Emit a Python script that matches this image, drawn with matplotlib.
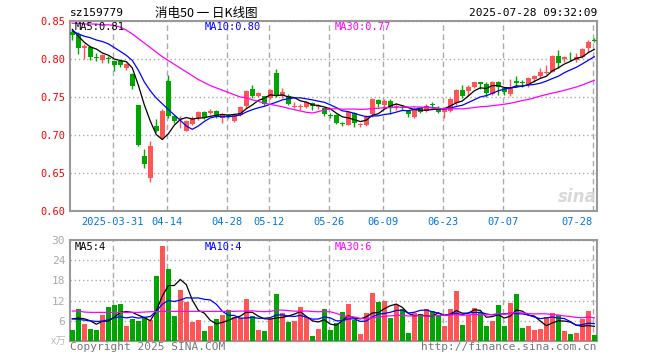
import numpy as np
import pandas as pd
import matplotlib
matplotlib.use('Agg')
import matplotlib.pyplot as plt

plt.rcParams['font.family'] = ['DejaVu Sans Mono', 'Noto Sans CJK SC']

# daily candles, 2025-03-20 .. 2025-07-28 (88 trading days)
opens = [0.8355, 0.832, 0.815, 0.8154, 0.802, 0.799, 0.801, 0.7978, 0.798, 0.788,
         0.780, 0.739, 0.673, 0.6434, 0.7114, 0.696, 0.7715, 0.7246, 0.7215, 0.7057,
         0.715, 0.722, 0.730, 0.729, 0.732, 0.7224, 0.7258, 0.719, 0.7259, 0.7377,
         0.7605, 0.7518, 0.7509, 0.7482, 0.7816, 0.7518, 0.7518, 0.7368, 0.7368, 0.7373,
         0.7417, 0.7368, 0.735, 0.7258, 0.7263, 0.7149, 0.7136, 0.7285, 0.7127, 0.7127,
         0.7272, 0.746, 0.7395, 0.7447, 0.7368, 0.736, 0.7316, 0.7241, 0.7351, 0.7316,
         0.7397, 0.7342, 0.7298, 0.7316, 0.7417, 0.7592, 0.7583, 0.7636, 0.7693, 0.7667,
         0.7539, 0.7693, 0.7623, 0.7535, 0.7715, 0.7684, 0.7658, 0.7737, 0.7781, 0.7816,
         0.7833, 0.804, 0.800, 0.8011, 0.7987, 0.8031, 0.8149, 0.8243]
closes = [0.831, 0.8145, 0.817, 0.8022, 0.801, 0.805, 0.800, 0.7917, 0.7925, 0.7934,
          0.764, 0.687, 0.662, 0.6851, 0.7048, 0.731, 0.7246, 0.719, 0.7225, 0.718,
          0.721, 0.730, 0.722, 0.732, 0.7246, 0.7268, 0.7254, 0.7268, 0.7364, 0.7575,
          0.7518, 0.7548, 0.7412, 0.7592, 0.7518, 0.757, 0.7412, 0.7373, 0.7373, 0.7439,
          0.7386, 0.7373, 0.7272, 0.7254, 0.7154, 0.7145, 0.730, 0.7154, 0.7132, 0.7241,
          0.7469, 0.7404, 0.7447, 0.735, 0.7373, 0.7355, 0.7272, 0.7329, 0.7298, 0.7382,
          0.7393, 0.7307, 0.7351, 0.7474, 0.7592, 0.7513, 0.7636, 0.7693, 0.767, 0.7548,
          0.7702, 0.7636, 0.757, 0.7636, 0.7684, 0.768, 0.7746, 0.7781, 0.7833, 0.782,
          0.804, 0.7943, 0.8031, 0.8007, 0.8022, 0.8132, 0.8228, 0.8241]
highs = [0.838, 0.836, 0.820, 0.8167, 0.808, 0.807, 0.804, 0.799, 0.799, 0.795,
         0.7816, 0.740, 0.682, 0.6917, 0.7215, 0.7346, 0.779, 0.7268, 0.7246, 0.720,
         0.7254, 0.732, 0.732, 0.7346, 0.7333, 0.729, 0.728, 0.728, 0.7377, 0.7588,
         0.7658, 0.7561, 0.7518, 0.7605, 0.7868, 0.7614, 0.7535, 0.7439, 0.7404, 0.7447,
         0.7439, 0.7404, 0.737, 0.7285, 0.7272, 0.7175, 0.7307, 0.7307, 0.7154, 0.7263,
         0.7482, 0.7469, 0.7469, 0.7469, 0.7417, 0.7395, 0.7329, 0.7373, 0.7373, 0.7412,
         0.7439, 0.7386, 0.7373, 0.7482, 0.7601, 0.7658, 0.7658, 0.7702, 0.7702, 0.7693,
         0.7715, 0.771, 0.7636, 0.7737, 0.7776, 0.7724, 0.7768, 0.779, 0.7877, 0.7921,
         0.8053, 0.8118, 0.804, 0.8088, 0.8075, 0.814, 0.825, 0.828]
lows = [0.8254, 0.8066, 0.800, 0.799, 0.798, 0.795, 0.795, 0.7846, 0.790, 0.786,
        0.761, 0.686, 0.656, 0.638, 0.7035, 0.695, 0.7224, 0.7158, 0.709, 0.705,
        0.7136, 0.720, 0.7215, 0.7276, 0.7224, 0.7158, 0.7224, 0.717, 0.7246, 0.736,
        0.749, 0.7504, 0.7395, 0.7469, 0.7504, 0.749, 0.7395, 0.736, 0.733, 0.735,
        0.733, 0.7342, 0.7254, 0.722, 0.714, 0.7118, 0.7127, 0.711, 0.710, 0.7118,
        0.7241, 0.7373, 0.7351, 0.7272, 0.733, 0.733, 0.7241, 0.7219, 0.7285, 0.7298,
        0.7351, 0.7285, 0.7228, 0.7298, 0.7395, 0.7491, 0.7513, 0.7614, 0.7605, 0.7504,
        0.7526, 0.7526, 0.7526, 0.7518, 0.7636, 0.7636, 0.7636, 0.7693, 0.7754, 0.7798,
        0.7825, 0.7886, 0.7965, 0.7974, 0.7965, 0.8009, 0.8096, 0.8228]
volumes = [3.4, 9.4, 5.0, 3.7, 3.4, 7.6, 10.0, 10.6, 10.9, 4.6,
           6.4, 5.8, 7.2, 6.1, 19.3, 28.3, 21.4, 7.3, 15.1, 11.6,
           5.5, 6.1, 3.1, 4.4, 6.4, 7.6, 9.1, 7.0, 6.8, 12.4,
           7.3, 3.4, 3.1, 6.4, 13.9, 8.2, 5.5, 5.9, 10.0, 7.0,
           1.6, 3.7, 9.4, 3.4, 5.2, 8.5, 10.9, 6.1, 2.2, 8.2,
           14.2, 11.5, 11.8, 6.7, 10.6, 9.4, 2.5, 8.2, 7.9, 9.4,
           8.8, 7.6, 4.6, 9.4, 14.8, 4.9, 7.6, 9.7, 8.5, 4.6,
           5.8, 10.6, 4.6, 11.2, 13.9, 4.0, 4.6, 3.4, 3.7, 7.0,
           8.2, 7.6, 3.1, 2.2, 2.5, 6.4, 8.8, 1.9]

# moving average values before a full window exists
price_ma5_head = [0.839, 0.830, 0.822, 0.816]
price_ma10_head = [0.837, 0.833, 0.830, 0.828, 0.825, 0.823, 0.820, 0.815, 0.810]
price_ma30_head = [0.847, 0.847, 0.846, 0.846, 0.846, 0.845, 0.845, 0.844, 0.842, 0.838,
                   0.833, 0.827, 0.821, 0.815, 0.809, 0.803, 0.798, 0.793, 0.788, 0.783,
                   0.778, 0.773, 0.769, 0.765, 0.762, 0.759, 0.756, 0.753, 0.750]
vol_ma5_head = [6.6, 6.8, 6.6, 6.0]
vol_ma10_head = [6.6, 6.4, 6.2, 6.0, 5.8, 5.9, 6.3, 6.9, 7.2]
vol_ma30_head = [8.9, 8.9, 8.6, 8.5, 8.5, 8.5, 8.5, 8.5, 8.5, 8.5,
                 8.5, 8.5, 8.6, 8.7, 8.7, 8.8, 8.8, 8.8, 8.8, 8.8,
                 8.8, 8.8, 8.8, 8.8, 8.8, 8.8, 8.8, 8.8, 8.9]

tick_index = [7, 16, 26, 33, 43, 52, 62, 72, 87]
tick_labels = ['2025-03-31', '04-14', '04-28', '05-12', '05-26', '06-09', '06-23', '07-07', '07-28']
price_ticks = [0.60, 0.65, 0.70, 0.75, 0.80, 0.85]
vol_ticks = [6, 12, 18, 24, 30]

RED = '#ff5555'
GREEN = '#00a600'
GRID = '#aaaaaa'
FRAME = '#999999'


def moving_avg(values, n, head):
    s = pd.Series(values, dtype=float).rolling(n).mean()
    s.iloc[:n - 1] = head
    return s.values


W, H = 660, 360


def px(x, y):
    return x / W, 1 - y / H


x = np.arange(len(closes))
o = np.array(opens)
c = np.array(closes)
up = c >= o
colors = np.where(up, RED, GREEN)
grid_x = np.array(tick_index) - 0.25

fig = plt.figure(figsize=(6.6, 3.6), dpi=100)
ax = fig.add_axes([70 / W, 1 - 211 / H, 527 / W, 190 / H])
axv = fig.add_axes([70 / W, 1 - 341 / H, 527 / W, 101 / H])

for a in (ax, axv):
    a.set_xlim(-0.383, 87.45)
    for sp in a.spines.values():
        sp.set_color(FRAME)
        sp.set_linewidth(1.5)
    a.set_xticks(grid_x)
    a.grid(axis='x', color=GRID, linestyle=(0, (4, 2.5)), linewidth=1)
    a.grid(axis='y', color=GRID, linestyle=(0, (1, 2)), linewidth=1)
    a.set_axisbelow(True)
    a.tick_params(length=0)

# price panel
ax.set_ylim(0.60, 0.85)
ax.set_yticks(price_ticks)
ax.set_yticklabels(['%.2f' % v for v in price_ticks], color='#ff0000', fontsize=7.5)
ax.set_xticklabels(tick_labels, color='#0077dd', fontsize=7.5)
ax.tick_params(axis='x', pad=4)
ax.get_xticklabels()[-1].set_horizontalalignment('right')

body = np.maximum(np.abs(c - o), 0.0012)
ax.vlines(x, lows, highs, colors=colors, linewidth=1, zorder=3)
ax.bar(x, body, bottom=np.minimum(o, c), width=0.78, color=colors, zorder=3)

ma5 = moving_avg(closes, 5, price_ma5_head)
ma10 = moving_avg(closes, 10, price_ma10_head)
ma30 = moving_avg(closes, 30, price_ma30_head)
ax.plot(x, ma5, color='black', linewidth=0.9, zorder=4)
ax.plot(x, ma10, color='#0000ff', linewidth=0.9, zorder=4)
ax.plot(x, ma30, color='#ff00ff', linewidth=0.9, zorder=4)

# volume panel
axv.set_ylim(0, 30)
axv.set_yticks(vol_ticks)
axv.set_yticklabels([str(v) for v in vol_ticks], color='#aaaaaa', fontsize=8)
axv.set_xticklabels([])
axv.bar(x, volumes, width=0.78, color=colors, zorder=3)
axv.plot(x, moving_avg(volumes, 5, vol_ma5_head), color='black', linewidth=0.9, zorder=4)
axv.plot(x, moving_avg(volumes, 10, vol_ma10_head), color='#0000ff', linewidth=0.9, zorder=4)
axv.plot(x, moving_avg(volumes, 30, vol_ma30_head), color='#ff00ff', linewidth=0.9, zorder=4)

# texts
fig.text(*px(70, 13), 'sz159779', fontsize=8, va='center', ha='left')
fig.text(*px(206, 13), '消电50 一 日K线图', fontsize=9, va='center', ha='center',
         family=['Noto Sans CJK SC', 'DejaVu Sans Mono'])
fig.text(*px(597, 13), '2025-07-28 09:32:09', fontsize=8, va='center', ha='right')

fig.text(*px(75, 27), 'MA5:%.2f' % ma5[-1], fontsize=7.5, va='center', color='black')
fig.text(*px(205, 27), 'MA10:%.2f' % ma10[-1], fontsize=7.5, va='center', color='#0000ff')
fig.text(*px(335, 27), 'MA30:%.2f' % ma30[-1], fontsize=7.5, va='center', color='#ff00ff')

fig.text(*px(75, 247), 'MA5:4', fontsize=7.5, va='center', color='black')
fig.text(*px(205, 247), 'MA10:4', fontsize=7.5, va='center', color='#0000ff')
fig.text(*px(335, 247), 'MA30:6', fontsize=7.5, va='center', color='#ff00ff')

fig.text(*px(66, 342), 'x万', fontsize=7.5, va='center', ha='right', color='#bbbbbb',
         style='italic', family=['Noto Sans CJK SC', 'DejaVu Sans Mono'])
fig.text(*px(70, 347), 'Copyright 2025 SINA.COM', fontsize=8, va='center', color='#777777')
fig.text(*px(597, 347), 'http://finance.sina.com.cn', fontsize=8, va='center', ha='right', color='#777777')
fig.text(*px(597, 197), 'sina', fontsize=12, va='center', ha='right', color='#d8d8d8',
         style='italic', weight='bold', family='DejaVu Sans')

fig.savefig('out.png', dpi=100, facecolor='white')
